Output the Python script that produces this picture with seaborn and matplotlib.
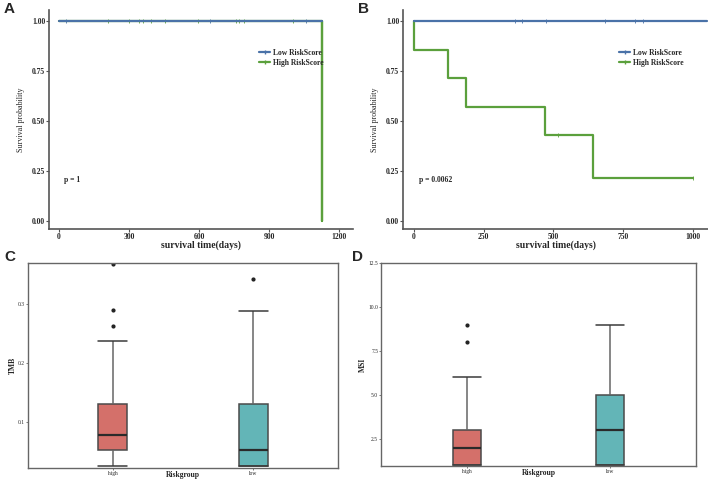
import pandas as pd
import seaborn as sns
import matplotlib.pyplot as plt

sns.set_theme(style="white")
plt.rcParams['font.family'] = ['Liberation Serif', 'DejaVu Serif']

BLUE = "#4a72a8"
GREEN = "#5ba03c"
RED = "#d4706a"
TEAL = "#63b5b7"

# --- panel A: KM curves ---
a_high_t = [0, 1126, 1126]
a_high_s = [1.0, 1.0, 0.0]
a_low_t = [0, 1126]
a_low_s = [1.0, 1.0]
a_cens_low = [29, 649, 1059]
a_cens_high = [211, 301, 344, 361, 394, 456, 596, 758, 772, 792, 1002]
a_p = "p = 1"

# --- panel B ---
b_high_t = [0, 2, 122, 187, 471, 643, 1000]
b_high_s = [1.0, 0.857, 0.714, 0.571, 0.429, 0.214, 0.214]
b_low_t = [0, 1050]
b_low_s = [1.0, 1.0]
b_cens_low = [363, 386, 474, 684, 791, 822]
b_cens_high = [516, 1000]
b_cens_high_s = [0.429, 0.214]
b_p = "p = 0.0062"

# --- panel C: TMB per risk group ---
tmb_high = [0.026, 0.034, 0.041, 0.047, 0.052, 0.052, 0.058, 0.064, 0.071, 0.078,
            0.085, 0.097, 0.112, 0.131, 0.131, 0.237, 0.263, 0.290, 0.369]
tmb_low = [0.025, 0.025, 0.025, 0.025, 0.025, 0.038, 0.046, 0.052, 0.067, 0.088,
           0.131, 0.131, 0.176, 0.288, 0.342]

# --- panel D: MSI per risk group ---
msi_high = [1, 1, 1, 1, 1, 1, 2, 2, 2, 2, 2, 3, 3, 3, 3, 4, 6, 8, 9]
msi_low = [1, 1, 1, 1, 1, 2, 3, 3, 3, 4, 5, 5, 6, 7, 9]

groups = ["high", "low"]

fig = plt.figure(figsize=(7.08, 4.8), dpi=100)

lab_font = dict(family='Liberation Serif', weight='bold', size=7)


def km_panel(ax, low_t, low_s, high_t, high_s, cl, ch, ch_s, ptext, xlim, xticks, leg_x):
    sns.lineplot(x=high_t, y=high_s, drawstyle='steps-post', color=GREEN,
                 linewidth=1.6, ax=ax, estimator=None)
    sns.lineplot(x=low_t, y=low_s, drawstyle='steps-post', color=BLUE,
                 linewidth=1.6, ax=ax, estimator=None)
    sns.scatterplot(x=cl, y=[1.0] * len(cl), marker='|', color=BLUE, s=12,
                    linewidth=0.6, ax=ax)
    sns.scatterplot(x=ch, y=ch_s, marker='|', color=GREEN, s=12,
                    linewidth=0.6, ax=ax)
    ax.plot([], [], color=BLUE, marker='|', ms=3, lw=1.6, label="Low RiskScore")
    ax.plot([], [], color=GREEN, marker='|', ms=3, lw=1.6, label="High RiskScore")
    ax.legend(loc='center left', bbox_to_anchor=(leg_x, 0.781), frameon=False,
              prop=dict(family='Liberation Serif', weight='bold', size=5.5),
              handlelength=1.5, handletextpad=0.3, labelspacing=0.3)
    ax.text(20, 0.195, ptext, family='Liberation Serif', weight='bold', size=5.5)
    ax.set_xlim(*xlim)
    ax.set_ylim(-0.04, 1.055)
    ax.set_xticks(xticks)
    ax.set_yticks([0, 0.25, 0.5, 0.75, 1.0])
    ax.set_yticklabels(["0.00", "0.25", "0.50", "0.75", "1.00"])
    for lbl in ax.get_xticklabels() + ax.get_yticklabels():
        lbl.set_family('Liberation Serif')
        lbl.set_weight('bold')
        lbl.set_fontsize(5.5)
    ax.set_xlabel("survival time(days)", fontdict=lab_font, labelpad=0)
    ax.set_ylabel("Survival probability", family='Liberation Serif', size=5.8,
                  weight='medium', labelpad=5)
    for s in ['top', 'right']:
        ax.spines[s].set_visible(False)
    for s in ['left', 'bottom']:
        ax.spines[s].set_color('#555555')
        ax.spines[s].set_linewidth(1.2)
    ax.tick_params(axis='both', length=2, width=0.8, color='#555555', pad=0.8,
                   bottom=True, left=True)


axA = fig.add_axes([49 / 708, 1 - 229 / 480, 304 / 708, 219 / 480])
km_panel(axA, a_low_t, a_low_s, a_high_t, a_high_s, a_cens_low, a_cens_high,
         [1.0] * len(a_cens_high), a_p, (-43, 1260), [0, 300, 600, 900, 1200], 0.668)

axB = fig.add_axes([403 / 708, 1 - 229 / 480, 305 / 708, 219 / 480])
km_panel(axB, b_low_t, b_low_s, b_high_t, b_high_s, b_cens_low, b_cens_high,
         b_cens_high_s, b_p, (-39, 1054), [0, 250, 500, 750, 1000], 0.685)


def box_panel(ax, high, low, ylabel, ylim, yticks, yticklabels):
    df = pd.DataFrame({
        "Riskgroup": ["high"] * len(high) + ["low"] * len(low),
        "value": list(high) + list(low),
    })
    sns.boxplot(data=df, x="Riskgroup", y="value", hue="Riskgroup",
                palette=[RED, TEAL], order=groups, width=0.2, ax=ax,
                saturation=1, capwidths=0.2,
                linewidth=1.1, linecolor='#4a4a4a', legend=False,
                medianprops=dict(color='#2a2a2a', linewidth=1.6),
                whiskerprops=dict(color='#666666', linewidth=1.1),
                capprops=dict(color='#3a3a3a', linewidth=1.1),
                flierprops=dict(marker='o', markersize=2, markerfacecolor='#222222',
                                markeredgecolor='#222222'))
    ax.set_xlim(-0.6, 1.6)
    ax.set_ylim(*ylim)
    ax.set_yticks(yticks)
    ax.set_yticklabels(yticklabels)
    for lbl in ax.get_xticklabels() + ax.get_yticklabels():
        lbl.set_family('Liberation Serif')
        lbl.set_fontsize(4)
    ax.set_xlabel("Riskgroup", fontdict=dict(family='Liberation Serif', weight='bold',
                                             size=5.5))
    ax.xaxis.set_label_coords(0.5, -0.015)
    ax.set_ylabel(ylabel, fontdict=dict(family='Liberation Serif', weight='bold',
                                        size=5.5), labelpad=1)
    for s in ax.spines.values():
        s.set_visible(True)
        s.set_color('#666666')
        s.set_linewidth(1.0)
    ax.tick_params(axis='both', length=1.5, width=0.6, color='#666666', pad=0.5,
                   bottom=True, left=True)


axC = fig.add_axes([28 / 708, 1 - 468 / 480, 310 / 708, 205 / 480])
box_panel(axC, tmb_high, tmb_low, "TMB", (0.022, 0.370), [0.1, 0.2, 0.3],
          ["0.1", "0.2", "0.3"])

axD = fig.add_axes([381 / 708, 1 - 466 / 480, 315 / 708, 203 / 480])
box_panel(axD, msi_high, msi_low, "MSI", (0.95, 12.5), [2.5, 5.0, 7.5, 10.0, 12.5],
          ["2.5", "5.0", "7.5", "10.0", "12.5"])

letter = dict(family='Liberation Sans', weight='bold', size=11, va='top', ha='left')
fig.text(4 / 708, 1 - 2 / 480, "A", **letter)
fig.text(358 / 708, 1 - 2 / 480, "B", **letter)
fig.text(4 / 708, 1 - 250 / 480, "C", **letter)
fig.text(352 / 708, 1 - 250 / 480, "D", **letter)

fig.savefig("out.png", dpi=100)
